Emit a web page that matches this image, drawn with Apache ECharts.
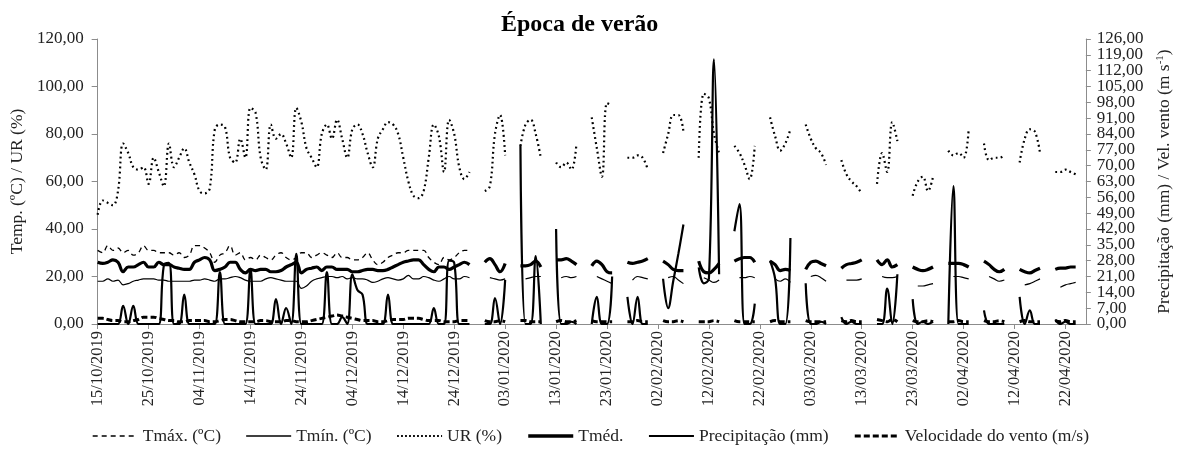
<!DOCTYPE html>
<html><head><meta charset="utf-8">
<script src="https://cdn.jsdelivr.net/npm/echarts@6/dist/echarts.min.js"></script>
<style>html,body{margin:0;padding:0;background:#fff}#c{width:1181px;height:455px}</style>
</head><body><div id="c"></div>
<script>
// Period: 15/10/2019 .. 26/04/2020 (195 daily categories)
const startDateUTC = Date.UTC(2019, 9, 15);
const nDays = 195;
const categories = [];
for (let i = 0; i < nDays; i++) {
  const d = new Date(startDateUTC + i * 86400000);
  const dd = String(d.getUTCDate()).padStart(2, '0');
  const mm = String(d.getUTCMonth() + 1).padStart(2, '0');
  categories.push(dd + '/' + mm + '/' + d.getUTCFullYear());
}
const n = null;

const leftTicks = [0, 20, 40, 60, 80, 100, 120];
const rightTicks = [0, 7, 14, 21, 28, 35, 42, 49, 56, 63, 70, 77, 84, 91, 98, 105, 112, 119, 126];

const ur = [
46,52,51,50,56,76,72,66,65,66,59,70,64,58,76,66,70,74,68,63,56,55,57,82,84,83,70,68,78,70,91,89,70,65,84,78,80,76,70,91,85,74,70,66,80,84,78,86,
78,70,82,84,80,72,66,78,82,85,84,80,70,60,54,53,56,70,84,79,64,86,80,66,61,64,
n,n,
56,58,80,88,71,n,n,
75,84,86,80,70,n,n,
68,66,68,65,76,n,n,
87,74,62,93,92,n,n,
70,70,71,70,65,n,n,
72,80,88,88,81,n,n,
70,97,95,80,72,n,n,
75,72,67,61,75,n,n,
87,79,73,76,82,n,n,
84,78,74,72,67,n,n,
69,63,60,58,55,n,n,
59,72,64,85,77,n,n,
54,60,62,56,62,n,n,
73,71,72,70,82,n,n,
76,69,70,70,71,n,n,
68,78,82,81,72,n,n,
64,64,65,64,63,n,n
];

const tmax = [
31,30,33,31,32,30,31,29,30,33,31,31,30,30,30,29,30,28,29,33,33,32,30,26,29,30,33,29,30,27,28,27,29,28,27,29,30,28,27,28,30,30,28,29,30,29,28,30,
28,28,27,27,28,30,27,25,26,28,29,30,30,31,31,31,31,28,26,25,28,27,28,30,31,31,
n,n,
n,n,n,n,n,n,n, n,n,n,n,n,n,n, n,n,n,n,n,n,n, n,n,n,n,n,n,n, n,n,n,n,n,n,n, n,n,n,n,n,n,n,
n,n,n,n,n,n,n, n,n,n,n,n,n,n, n,n,n,n,n,n,n, n,n,n,n,n,n,n, n,n,n,n,n,n,n, n,n,n,n,n,n,n,
n,n,n,n,n,n,n, n,n,n,n,n,n,n, n,n,n,n,n,n,n, n,n,n,n,n,n,n, n,n,n,n,n,n,n
];

const tmed = [
26,25.5,26,27,26,22,24,24,25,26,24,24,26,25,25,24,23.5,23,23,26,27,28,27,22.5,23,24,26,26,23,21.5,23,22.5,23,23,22,22,22.5,24,25,26,21.5,23,23.5,24,22.5,24,24,23,
23,23,22,22,22.5,23,23,22.5,22.5,23,24,25,26,26.5,27,27,25,23,22,24,24,23,24,25,26,25,
n,n,
26,27.5,25,22,25.5,n,n,
24.5,24.5,25,26.5,24,n,n,
27,27,27.5,26.5,25,n,n,
24.5,26.5,25,22,21.5,n,n,
26,25.5,26,26.5,27.5,n,n,
26.5,25,23,22.5,22.5,n,n,
26.5,22,21.5,23,25.5,n,n,
26.5,27.5,28,28,26,n,n,
26.5,25,22.5,23,22.5,n,n,
23,26,26.5,25.5,24.5,n,n,
23.5,25,25.5,26,27,n,n,
27,25,27,24,25,n,n,
24,23,22.5,23,24,n,n,
25.5,25.5,25.5,25,24,n,n,
26.5,25,23,22,23,n,n,
23,22,21.5,22.5,23.5,n,n,
23,23.5,23.5,24,24,n,n
];

const tmin = [
18,18,19,18,18.5,16.5,17,18,18.5,19,19,19,18.5,18.5,18,18,18,18,18,18.5,18.5,19,18.5,18,19,19,19.5,20,19.5,18.5,18,18,18,19,19.5,19,18.5,18,18,18,15,16,18,19,19.5,20,20,19.5,
20,19,19.5,19,19,18.5,17.5,18,19,19.5,19,18.5,19,20.5,19,19,20,19.5,18.5,18,19,20,19,19,20,19.5,
n,n,
n,19.5,19,18.5,19,n,n,
n,19,19.5,20,20,n,n,
n,19.5,20,19.5,20,n,n,
n,20,19,18,17,n,n,
n,18.5,20,19.5,19,n,n,
n,19.5,20,18.5,17,n,n,
n,19.5,18.5,17.5,18.5,n,n,
n,19.5,19.5,20,19.5,n,n,
n,19,18,19,17.5,n,n,
n,20,20.5,19.5,18,n,n,
n,18.5,18.5,18.5,19,n,n,
n,20,19.5,19.5,20,n,n,
n,16,16,16.5,17,n,n,
n,20,20,19.5,19,n,n,
n,20,19,18,18.5,n,n,
n,16.5,17,18,19,n,n,
n,15.5,16.5,17,17.5,n,n
];

const precip = [
0,0,0,0,0,8,0,8,0,0,0,0,0,26,27,0,0,13,0,0,0,0,0,0,23,0,0,0,0,0,24,0,0,0,0,11,0,7,0,31,0,0,0,0,0,23,0,0,
3,0,22,15,13,0,0,0,0,13,0,0,0,0,0,0,0,0,7,0,0,28,27,0,0,0,
n,n,
0,0,11.5,0,19.5,n,n,
79,0,0,30,0,n,n,
42,0,0,1,0,n,n,
0,12,0,0,21,n,n,
12,0,12,0,0,n,n,
20,7,19,31,44,n,n,
25,18,20,117,22,n,n,
41,53,0,0,9,n,n,
28,20,0,0,38,n,n,
18,0,0,1,0,n,n,
3,0,1,0,0,n,n,
0,0,15.7,0,22,n,n,
11,0,1,0,1,n,n,
0,61,0,0,0,n,n,
6,0,0,0,0,n,n,
12,0,6,0,0,n,n,
2,0,1,0,0,n,n
];

const wind = [
2.5,2.5,2,1.5,1.5,1,1,1.5,2,3, 3,3,2.5,2,1.5,1.5,1,1,1.5,1.5, 1.5,1.5,1,1,1.5,2,2,1.5,1,1,
1,1,1.5,1.5,1,1,1,1.5,1.5,1, 1,1,1.5,2,2.5,3,3.5,4,3.5,3, 2.5,2,1.5,1.5,1.5,1,1,1.5,2,2,
2,2.5,2.5,2.5,2,1.5,1.5,1.5,1,1, 1,1.5,1.5,1.5,
n,n,
1.5,1,1,1.5,1,n,n,
1.5,1.5,1,1,1,n,n,
1,1.5,1,1,1.5,n,n,
1.5,1,1,1,1,n,n,
1,1,1.5,1,1,n,n,
1.5,1,1,1.5,1,n,n,
1,1,1,1.5,1,n,n,
1.5,1,1,1,1,n,n,
1,1.5,1,1,1,n,n,
1.5,1,1,1,1,n,n,
1.5,1,1.5,1,1,n,n,
2,1.5,1,2,1,n,n,
1.5,1,1,1.5,1,n,n,
1,1,1.5,1,1,n,n,
1.5,1,1,1.5,1,n,n,
1,1.5,1,1,1,n,n,
1.5,1,1.5,1,1,n,n
];

const FONT = '"Liberation Serif", "Times New Roman", serif';
const fmt = v => v.toFixed(2).replace('.', ',');
const rightEven = rightTicks.filter((v, i) => i % 2 === 0);
const rightOdd = rightTicks.filter((v, i) => i % 2 === 1);

function lineSeries(name, data, axis, lineStyle) {
  return {
    name, type: 'line', data, yAxisIndex: axis, symbol: 'none', showSymbol: false,
    smooth: 0.4, connectNulls: false,
    lineStyle: Object.assign({ color: '#000' }, lineStyle),
    itemStyle: { color: '#000' },
    emphasis: { disabled: true }
  };
}

const rightLabelStyle = { formatter: fmt, margin: 11, fontFamily: FONT, fontSize: 17, color: '#222' };

const chart = echarts.init(document.getElementById('c'), null, { renderer: 'canvas' });
chart.setOption({
  animation: false,
  backgroundColor: '#fff',
  title: {
    text: 'Época de verão', left: 496, top: 8,
    textStyle: { fontFamily: FONT, fontSize: 24, fontWeight: 'bold', color: '#000' }
  },
  grid: { left: 97, right: 88, top: 39, bottom: 131, containLabel: false },
  legend: {
    bottom: 5, left: 'center', itemWidth: 45, itemHeight: 12, itemGap: 24.5,
    itemStyle: { opacity: 0 },
    textStyle: { fontFamily: FONT, fontSize: 17.5, color: '#222' },
    data: [
      { name: 'Tmáx. (ºC)', lineStyle: { width: 1.3, type: [5, 4] } },
      { name: 'Tmín. (ºC)', lineStyle: { width: 1.3 } },
      { name: 'UR (%)', lineStyle: { width: 2, type: [1.8, 2.2] } },
      { name: 'Tméd.', lineStyle: { width: 3.5 } },
      { name: 'Precipitação (mm)', lineStyle: { width: 2 } },
      { name: 'Velocidade do vento (m/s)', lineStyle: { width: 3.2, type: [6, 3] } }
    ]
  },
  xAxis: {
    type: 'category', data: categories, boundaryGap: false,
    axisLine: { lineStyle: { color: '#8c8c8c', width: 1 } },
    axisTick: { interval: 9, length: 5, lineStyle: { color: '#8c8c8c' } },
    axisLabel: { interval: 9, rotate: 90, margin: 7, fontFamily: FONT, fontSize: 16.5, color: '#222' },
    splitLine: { show: false }
  },
  yAxis: [
    {
      type: 'value', min: leftTicks[0], max: leftTicks[leftTicks.length - 1], interval: 20,
      name: 'Temp. (ºC) / UR (%)', nameLocation: 'middle', nameGap: 67, nameRotate: 90,
      nameTextStyle: { fontFamily: FONT, fontSize: 17.5, color: '#222' },
      axisLine: { show: true, lineStyle: { color: '#8c8c8c' } },
      axisTick: { show: true, length: 6, lineStyle: { color: '#8c8c8c' } },
      axisLabel: { formatter: fmt, margin: 14, fontFamily: FONT, fontSize: 17, color: '#222',
        showMinLabel: true, showMaxLabel: true, hideOverlap: false },
      splitLine: { show: false }
    },
    {
      type: 'value', min: rightTicks[0], max: rightTicks[rightTicks.length - 1], interval: 7,
      position: 'right',
      name: 'Precipitação (mm) / Vel. vento (m s{sup|-1})', nameLocation: 'middle', nameGap: 61, nameRotate: 90,
      nameTextStyle: { fontFamily: FONT, fontSize: 17.5, color: '#222',
        rich: { sup: { fontFamily: FONT, fontSize: 11, color: '#222', verticalAlign: 'top', padding: [0, 0, 8, 0] } } },
      axisLine: { show: true, lineStyle: { color: '#8c8c8c' } },
      axisTick: { show: true, length: 5, lineStyle: { color: '#8c8c8c' } },
      axisLabel: Object.assign({ customValues: rightEven, showMinLabel: true, showMaxLabel: true }, rightLabelStyle),
      splitLine: { show: false }
    },
    {
      type: 'value', min: rightTicks[0], max: rightTicks[rightTicks.length - 1], interval: 7,
      position: 'right',
      axisLine: { show: false },
      axisTick: { show: false },
      axisLabel: Object.assign({ customValues: rightOdd }, rightLabelStyle),
      splitLine: { show: false }
    }
  ],
  series: [
    lineSeries('Tmáx. (ºC)', tmax, 0, { width: 1.3, type: [5, 4] }),
    lineSeries('Tmín. (ºC)', tmin, 0, { width: 1.2 }),
    lineSeries('UR (%)', ur, 0, { width: 2.2, type: [1.8, 3.2] }),
    lineSeries('Tméd.', tmed, 0, { width: 3.2 }),
    lineSeries('Precipitação (mm)', precip, 1, { width: 2.2 }),
    lineSeries('Velocidade do vento (m/s)', wind, 1, { width: 3, type: [6, 3] })
  ]
});
</script>
</body></html>
